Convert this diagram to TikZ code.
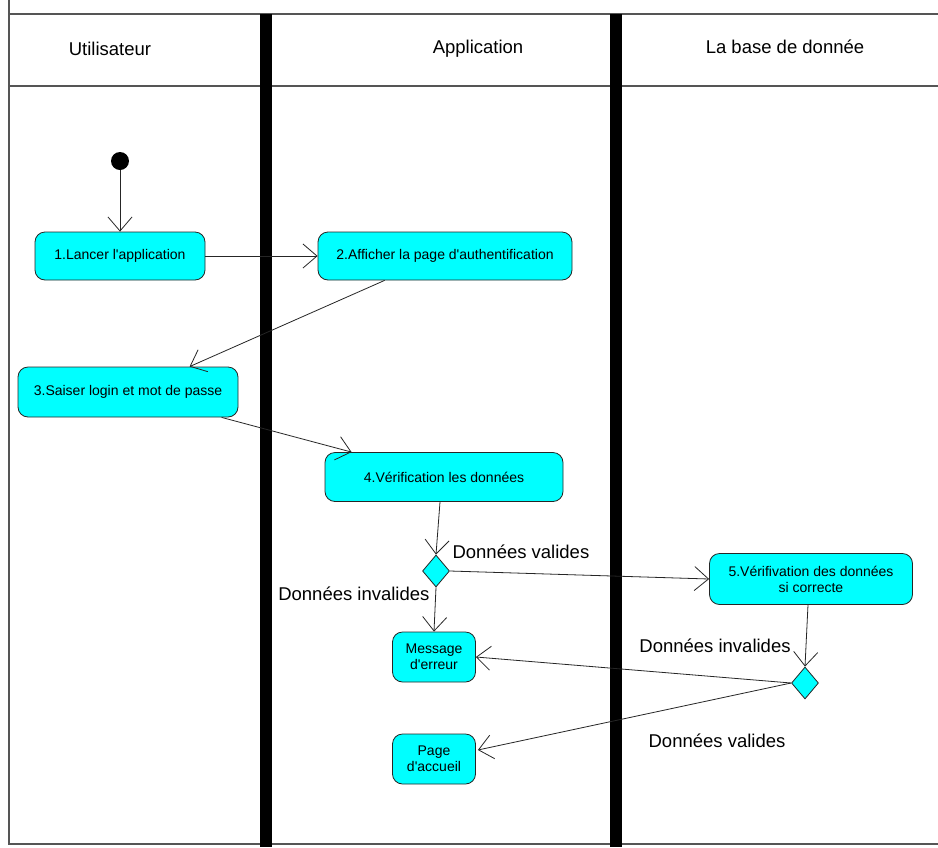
\documentclass[tikz,border=0pt]{standalone}
\usepackage{fontspec}
\setmainfont{Liberation Sans}
\usetikzlibrary{arrows.meta,shapes.geometric,calc}
\definecolor{actfill}{HTML}{00FFFF}
\definecolor{frame}{HTML}{555555}
\newcommand{\apos}{\textquotesingle}
\tikzset{
  x=1pt, y=-1pt,
  lane/.style={draw=frame, line width=1.3pt},
  bar/.style={draw=black, line width=12pt},
  act/.style={draw=black!85, fill=actfill, rounded corners=10pt, line width=0.8pt,
    align=center, font=\fontsize{14}{16}\selectfont, inner sep=2pt},
  decision/.style={diamond, draw=black!85, fill=actfill, line width=0.8pt,
    minimum width=27pt, minimum height=32pt, inner sep=0pt},
  start/.style={circle, fill=black, minimum size=18pt, inner sep=0pt},
  flow/.style={draw=black!85, line width=0.8pt,
    -{Straight Barb[length=14pt, width=24pt, line width=0.8pt]}},
  head/.style={font=\fontsize{18.5}{22}\selectfont},
  guard/.style={font=\fontsize{18.5}{22}\selectfont}
}
\begin{document}
\begin{tikzpicture}
\useasboundingbox (0,0) rectangle (938,847);
\fill[white] (0,0) rectangle (938,847);

% swimlane frame
\draw[lane] (9,0) -- (9,844) -- (938,844);
\draw[lane] (9,14) -- (938,14);
\draw[lane] (9,86) -- (938,86);
\draw[bar] (266,14) -- (266,847);
\draw[bar] (616,14) -- (616,847);

% lane titles
\node[head] (hUser) at (110,49) {Utilisateur};
\node[head] (hApp)  at (478,49) {Application};
\node[head] (hDb)   at (785,47) {La base de donnée};

% activities
\node[start] (s0) at (120,161) {};
\node[act, minimum width=170pt, minimum height=48pt] (a1) at (120,256) {1.Lancer l\apos application};
\node[act, minimum width=254pt, minimum height=48pt] (a2) at (445,256) {2.Afficher la page d\apos authentification};
\node[act, minimum width=220pt, minimum height=50pt] (a3) at (128,392) {3.Saiser login et mot de passe};
\node[act, minimum width=238pt, minimum height=49pt] (a4) at (444,477) {4.Vérification les données};
\node[decision] (d1) at (436,571) {};
\node[act, minimum width=203pt, minimum height=51pt] (a5) at (811,579) {5.Vérifivation des données\\si correcte};
\node[decision] (d2) at (805,683) {};
\node[act, minimum width=83pt, minimum height=50pt] (err) at (434,657) {Message\\d\apos erreur};
\node[act, minimum width=83pt, minimum height=50pt] (home) at (434,759) {Page\\d\apos accueil};

% control flows
\draw[flow] (s0) -- (a1);
\draw[flow] (a1) -- (a2);
\draw[flow] ($(a2.south west)+(67,0)$) -- ($(a3.north west)+(172,0)$);
\draw[flow] ($(a3.south west)+(204,0)$) -- ($(a4.north west)+(27,0)$);
\draw[flow] ($(a4.south)+(-4,0)$) -- (d1.north);
\draw[flow] (d1.east) -- (a5.west);
\draw[flow] (d1.south) -- (err.north);
\draw[flow] ($(a5.south)+(-3,0)$) -- (d2.north);
\draw[flow] (d2.west) -- (err.east);
\draw[flow] (d2.west) -- ($(home.east)+(2,-9)$);

% guards
\node[guard, anchor=west] (g1) at (449,552) {Données valides};
\node[guard, anchor=east] (g2) at (433,594) {Données invalides};
\node[guard] (g3) at (715,646) {Données invalides};
\node[guard] (g4) at (717,741) {Données valides};
\end{tikzpicture}
\end{document}
